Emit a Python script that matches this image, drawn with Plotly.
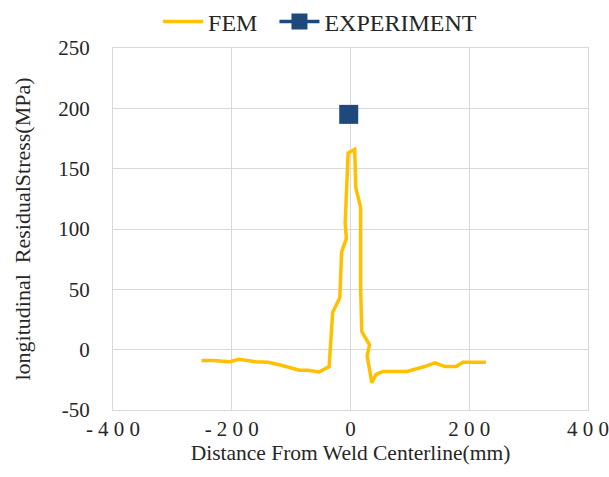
import plotly.graph_objects as go

fem_x = [-251, -231, -203, -188, -159, -139, -120, -86, -72, -53, -36, -30, -18, -15, -7, -9, -4, 7, 9, 17, 17, 19, 32, 28, 36, 43, 55, 95, 125, 142, 159, 178, 189, 228]
fem_y = [-9, -9, -10, -8, -10, -10.5, -12.5, -17, -17, -18.5, -14, 31, 43, 81, 92, 105, 163, 166, 134, 118, 52, 15, 4, -5, -27.5, -20.5, -18, -18, -14, -11, -14, -14, -10.5, -10.5]
exp_x = [-3]
exp_y = [195]

x_ticks = [-400, -200, 0, 200, 400]
x_ticktext = ["-\u00a04\u00a00\u00a00", "-\u00a02\u00a00\u00a00", "0", "2\u00a00\u00a00", "4\u00a00\u00a00"]
y_ticks = [-50, 0, 50, 100, 150, 200, 250]
y_ticktext = ["-50", "0", "50", "100", "150", "200", "250"]

font = "Liberation Serif, Times New Roman, serif"
grid = "#D9D9D9"

fig = go.Figure()
fig.add_trace(go.Scatter(x=fem_x, y=fem_y, mode="lines", name="FEM\u00a0\u00a0",
                         line=dict(color="#FFC000", width=3.5)))
fig.add_trace(go.Scatter(x=exp_x, y=exp_y, mode="lines+markers", name="EXPERIMENT",
                         line=dict(color="#1F497D", width=3.5),
                         marker=dict(symbol="square", size=19, color="#1F497D")))

fig.update_layout(
    width=609, height=477,
    margin=dict(l=113, r=21, t=48, b=67, autoexpand=False),
    paper_bgcolor="white", plot_bgcolor="white",
    font=dict(family=font, size=21, color="#262626"),
    legend=dict(orientation="h", x=0.436, xanchor="center", y=1.072, yanchor="middle",
                font=dict(size=24), itemwidth=40, bgcolor="rgba(0,0,0,0)"),
    xaxis=dict(range=[-400, 400], tickvals=x_ticks, ticktext=x_ticktext,
               showgrid=True, gridcolor=grid, gridwidth=1, zeroline=False,
               showline=True, mirror=True, linecolor=grid, linewidth=1,
               ticks="", tickfont=dict(size=21), ticklabeloverflow="allow",
               title=dict(text="Distance From Weld Centerline(mm)", font=dict(size=21.5), standoff=2)),
    yaxis=dict(range=[-50, 250], tickvals=y_ticks, ticktext=y_ticktext,
               showgrid=True, gridcolor=grid, gridwidth=1, zeroline=False,
               showline=True, mirror=True, linecolor=grid, linewidth=1,
               ticks="outside", ticklen=18, tickcolor="rgba(0,0,0,0)",
               tickfont=dict(size=21),
               title=dict(text="longitudinal  ResidualStress(MPa)", font=dict(size=22), standoff=21)),
)

fig.write_html("out.html")
